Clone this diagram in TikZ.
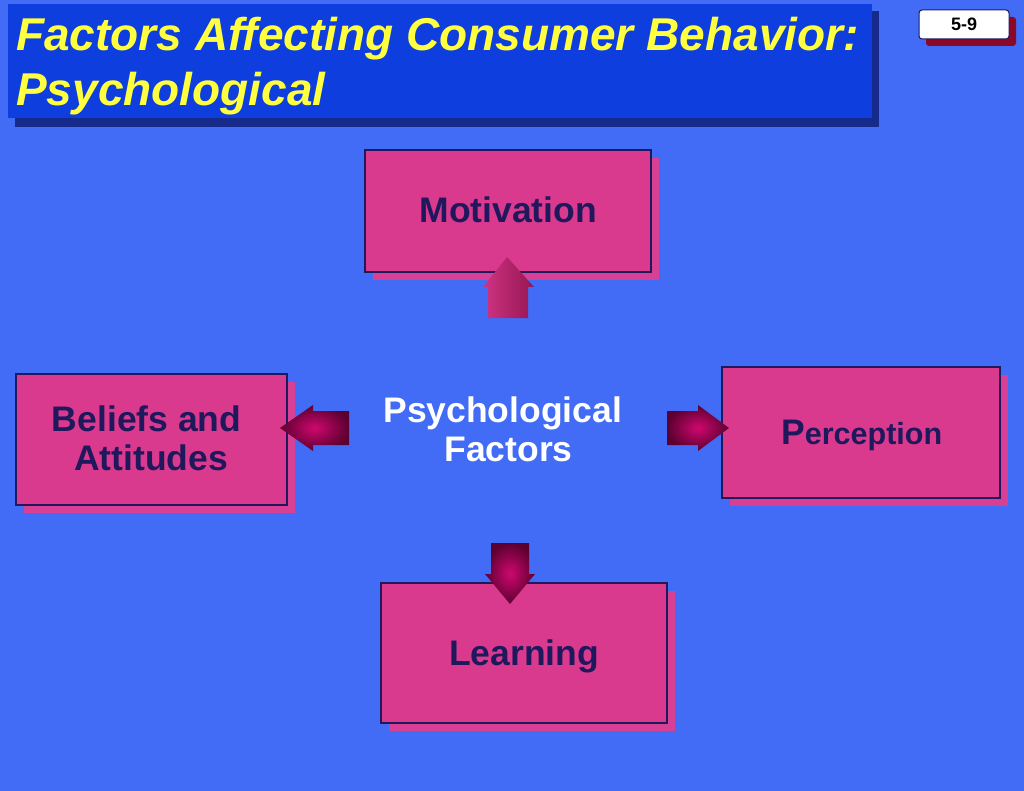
\documentclass[tikz,border=0pt]{standalone}
\usepackage{fontspec}
\setmainfont{Liberation Sans}
\usetikzlibrary{shadows}
\definecolor{bgblue}{RGB}{66,108,245}
\definecolor{titlefill}{RGB}{14,62,222}
\definecolor{titleshadow}{RGB}{22,42,140}
\definecolor{boxpink}{RGB}{218,58,142}
\definecolor{shadowpink}{RGB}{216,64,150}
\definecolor{boxnavy}{RGB}{32,24,92}
\definecolor{titleyellow}{RGB}{255,255,64}
\definecolor{tagshadow}{RGB}{140,8,40}
\definecolor{arrowlight}{RGB}{206,8,110}
\definecolor{arrowdark}{RGB}{92,0,48}
\definecolor{upleft}{RGB}{206,52,132}
\definecolor{upright}{RGB}{150,22,82}
\tikzset{
  factorbox/.style={draw=boxnavy, line width=1.2pt, fill=boxpink, inner sep=0pt,
    drop shadow={shadow xshift=8pt, shadow yshift=-8pt, fill=shadowpink, opacity=1}},
  boxtext/.style={text=boxnavy, font=\fontsize{35.5}{40}\selectfont\bfseries, inner sep=0pt},
  centertext/.style={text=white, font=\fontsize{35.5}{40}\selectfont\bfseries, inner sep=0pt},
  titletext/.style={text=titleyellow, font=\fontsize{46}{50}\selectfont\bfseries\itshape, inner sep=0pt},
  blockarrow/.style={inner color=arrowlight, outer color=arrowdark},
  uparrow/.style={left color=upleft, right color=upright},
}
\begin{document}
\begin{tikzpicture}[x=1pt,y=-1pt]
\useasboundingbox (0,0) rectangle (1024,791);
\fill[bgblue] (0,0) rectangle (1024,791);

% title bar
\fill[titleshadow] (15,11) rectangle (879,127);
\fill[titlefill] (8,4) rectangle (872,118);
\node[titletext, anchor=base west] (title1) at (16,51) {Factors Affecting Consumer Behavior:};
\node[titletext, anchor=base west] (title2) at (16,106) {Psychological};

% slide number tag
\fill[tagshadow, rounded corners=3pt] (926,17) rectangle (1016,46);
\node[draw=boxnavy, fill=white, line width=1pt, rounded corners=3pt, inner sep=0pt,
      minimum width=90pt, minimum height=29pt] (tag) at (964,24.5) {};
\node[text=black, font=\fontsize{18}{20}\selectfont\bfseries, inner sep=0pt] (tagtext) at (964,24.5) {5-9};

% boxes
\node[factorbox, minimum width=286pt, minimum height=122pt] (motivation) at (508,211) {};
\node[factorbox, minimum width=271pt, minimum height=131pt] (beliefs) at (151.5,439.5) {};
\node[factorbox, minimum width=278pt, minimum height=131pt] (perception) at (861,432.5) {};
\node[factorbox, minimum width=286pt, minimum height=140pt] (learning) at (524,653) {};

% box texts
\node[boxtext, anchor=base] (motivationtext) at (508.3,222.7) {Motivation};
\node[boxtext, anchor=base west] (beliefstext1) at (51.7,431.7) {Beliefs and};
\node[boxtext, anchor=base west] (beliefstext2) at (74,470.7) {Attitudes};
\node[boxtext, anchor=base west] (perceptiontext) at (781,444.3) {P\fontsize{30.5}{34}\selectfont erception};
\node[boxtext, anchor=base] (learningtext) at (524,665) {Learning};

% center text
\node[centertext, anchor=base] (center1) at (502.7,422.7) {Psychological};
\node[centertext, anchor=base] (center2) at (508.5,461) {Factors};

% block arrows
\shade[uparrow] (488,318) -- (488,287) -- (483,287) -- (507,257) -- (534,287) -- (528,287) -- (528,318) -- cycle;
\shade[blockarrow] (349,411) -- (313,411) -- (313,405) -- (280,428) -- (313,451) -- (313,445) -- (349,445) -- cycle;
\shade[blockarrow] (667,411) -- (698,411) -- (698,405) -- (729,428) -- (698,451) -- (698,445) -- (667,445) -- cycle;
\shade[blockarrow] (491,543) -- (529,543) -- (529,574) -- (535,574) -- (510,604) -- (485,574) -- (491,574) -- cycle;
\end{tikzpicture}
\end{document}
